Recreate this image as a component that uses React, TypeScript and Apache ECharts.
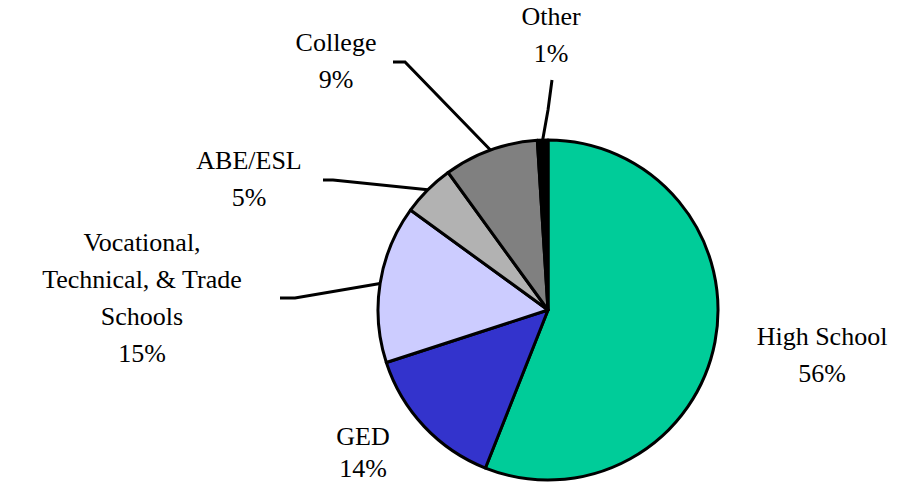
import React, { useEffect, useRef } from "react";
import * as echarts from "echarts";

const categories = [
  "High School",
  "GED",
  "Vocational,\nTechnical, & Trade\nSchools",
  "ABE/ESL",
  "College",
  "Other",
];
const values = [56, 14, 15, 5, 9, 1];
const colors = ["#00CC99", "#3333CC", "#CCCCFF", "#B2B2B2", "#808080", "#000000"];

// label block centers, line heights and leader line bend/end points (layout only)
const labelCenters: [number, number][] = [
  [822, 355],
  [363, 452],
  [142, 298],
  [249, 179],
  [336, 61],
  [551, 35],
];
const labelLineHeights = [37, 32, 37, 37, 37, 37];
const leaderPoints: ([number, number][] | null)[] = [
  null,
  null,
  [[295, 298], [280, 298]],
  [[333, 180], [323, 180]],
  [[405, 62], [393, 62]],
  [[548, 110], [552, 80]],
];

const FONT = "Liberation Serif";

export default function App() {
  const ref = useRef<HTMLDivElement>(null);
  useEffect(() => {
    if (!ref.current) return;
    const chart = echarts.init(ref.current, null, { renderer: "svg" });
    const cx = 548;
    const cy = 310;
    const r = 170;
    chart.setOption({
      animation: false,
      backgroundColor: "#ffffff",
      series: [
        {
          type: "pie",
          center: [cx, cy],
          radius: r,
          startAngle: 90,
          clockwise: true,
          avoidLabelOverlap: false,
          emphasis: { disabled: true },
          itemStyle: { borderColor: "#000", borderWidth: 3 },
          label: {
            show: true,
            position: "outside",
            formatter: (p: any) => `${p.name}\n${p.value}%`,
            fontFamily: FONT,
            fontSize: 26,
            lineHeight: 37,
            color: "#000",
            align: "center",
          },
          labelLine: {
            show: true,
            smooth: false,
            lineStyle: { color: "#000", width: 3 },
          },
          labelLayout: (params: any) => {
            const i = params.dataIndex;
            const c = labelCenters[i];
            const out: any = { x: c[0], y: c[1], align: "center", verticalAlign: "middle" };
            const lp = leaderPoints[i];
            if (lp) {
              let start = params.labelLinePoints && params.labelLinePoints[0];
              if (!start) {
                let cum = 0;
                for (let k = 0; k < i; k++) cum += values[k];
                const mid = ((cum + values[i] / 2) / 100) * Math.PI * 2;
                start = [cx + r * Math.sin(mid), cy - r * Math.cos(mid)];
              }
              out.labelLinePoints = [start, lp[0], lp[1]];
            }
            return out;
          },
          data: categories.map((name, i) => ({
            name,
            value: values[i],
            itemStyle: { color: colors[i] },
            label: { lineHeight: labelLineHeights[i] },
            labelLine: { show: leaderPoints[i] !== null },
          })),
        },
      ],
    });
    return () => chart.dispose();
  }, []);
  return (
    <div
      id="pie-chart"
      ref={ref}
      style={{ position: "absolute", left: 0, top: 0, width: 909, height: 486 }}
    />
  );
}
